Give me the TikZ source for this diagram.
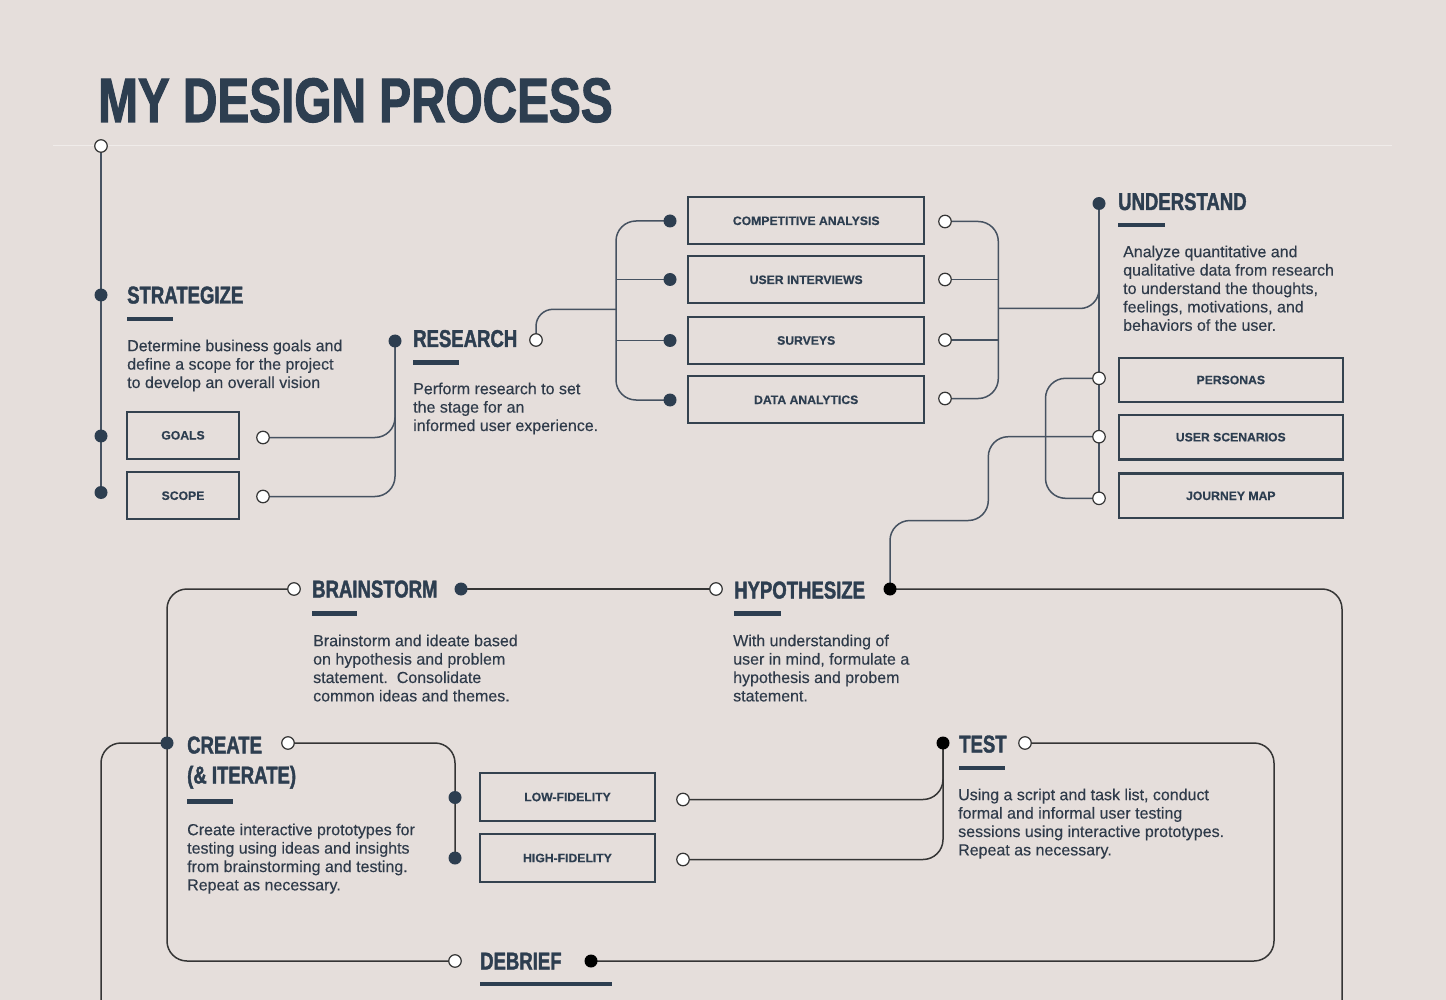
\documentclass[tikz,border=0pt]{standalone}
\usepackage{fontspec}
\setmainfont{Liberation Sans}[FakeBold=0.25]
\newfontfamily\headfont[FakeStretch=0.76, BoldFeatures={FakeBold=1.6}]{Liberation Sans}
\newfontfamily\boxfont[BoldFeatures={FakeBold=0.3}]{Liberation Sans}
\pgfdeclarelayer{back}
\pgfdeclarelayer{wires}
\pgfsetlayers{back,wires,main}
\definecolor{bgc}{HTML}{E5DEDB}
\definecolor{navy}{HTML}{2D3E50}
\definecolor{bodyc}{HTML}{2F3B4A}
\definecolor{boxc}{HTML}{34424F}
\definecolor{lineA}{HTML}{465261}
\definecolor{lineB}{HTML}{353535}
\definecolor{rulec}{HTML}{F0ECEA}
\tikzset{
  hd/.style={anchor=base west, inner sep=0, text=navy, font=\headfont\bfseries\fontsize{24.4}{30}\selectfont},
  body/.style={anchor=north west, inner sep=0, align=left, text=bodyc, font=\fontsize{16}{18.4}\selectfont},
  bar/.style={draw=navy, line width=4.5pt},
  box/.style={draw=boxc, line width=2.2pt, inner sep=0, text=navy, font=\boxfont\bfseries\fontsize{12.2}{14}\selectfont},
  fdot/.style={circle, fill=navy, minimum size=13pt, inner sep=0},
  kdot/.style={circle, fill=black, minimum size=13pt, inner sep=0},
  odot/.style={circle, draw=lineB, fill=white, line width=1.2pt, minimum size=12.5pt, inner sep=0},
  wa/.style={draw=lineA, line width=1.5pt, rounded corners=20pt},
  wb/.style={draw=lineB, line width=1.5pt, rounded corners=20pt},
}
\begin{document}
\begin{tikzpicture}[x=1pt,y=-1pt]
\begin{pgfonlayer}{back}
\fill[bgc] (0,0) rectangle (1446,1000);
\draw[rulec, line width=1pt] (53,146) -- (1392,146);
\end{pgfonlayer}
\useasboundingbox (0,0) rectangle (1446,1000);

% title
\node[anchor=base west, inner sep=0, text=navy, font=\headfont\bfseries\fontsize{62.8}{70}\selectfont] (title) at (98,122) {MY DESIGN PROCESS};

% headings
\node[hd] (hst) at (127,303.5) {STRATEGIZE};
\node[hd] (hrs) at (413,347) {RESEARCH};
\node[hd] (hun) at (1118,210) {UNDERSTAND};
\node[hd] (hbs) at (312,597.5) {BRAINSTORM};
\node[hd] (hhy) at (734,598.5) {HYPOTHESIZE};
\node[hd] (hcr) at (187,753.5) {CREATE};
\node[hd] (hcr2) at (187,783.5) {(\& ITERATE)};
\node[hd] (hts) at (959,752.5) {TEST};
\node[hd] (hdb) at (480,969.5) {DEBRIEF};

% bars
\draw[bar] (127,319) -- (173,319);
\draw[bar] (413,362.5) -- (459,362.5);
\draw[bar] (1118,225) -- (1165,225);
\draw[bar] (312,613.5) -- (357,613.5);
\draw[bar] (734,613.5) -- (781,613.5);
\draw[bar] (187,801.5) -- (233,801.5);
\draw[bar] (959,768) -- (1005,768);
\draw[bar] (480,984) -- (612,984);

% body texts
\node[body] (tst) at (127,339.4) {Determine business goals and\\define a scope for the project\\to develop an overall vision};
\node[body] (trs) at (413,382.4) {Perform research to set\\the stage for an\\informed user experience.};
\node[body] (tun) at (1123,245.4) {Analyze quantitative and\\qualitative data from research\\to understand the thoughts,\\feelings, motivations, and\\behaviors of the user.};
\node[body] (tbs) at (313,634.4) {Brainstorm and ideate based\\on hypothesis and problem\\statement.\ \ Consolidate\\common ideas and themes.};
\node[body] (thy) at (733,634.4) {With understanding of\\user in mind, formulate a\\hypothesis and probem\\statement.};
\node[body] (tcr) at (187,823.4) {Create interactive prototypes for\\testing using ideas and insights\\from brainstorming and testing.\\Repeat as necessary.};
\node[body] (tts) at (958,788.4) {Using a script and task list, conduct\\formal and informal user testing\\sessions using interactive prototypes.\\Repeat as necessary.};

% boxes
\node[box, minimum width=112.6pt, minimum height=47pt] (goals) at (183,435.3) {GOALS};
\node[box, minimum width=112.6pt, minimum height=47pt] (scope) at (183,495.7) {SCOPE};
\node[box, minimum width=235.7pt, minimum height=47pt] (ca) at (806.2,220.8) {COMPETITIVE ANALYSIS};
\node[box, minimum width=235.7pt, minimum height=47pt] (ui) at (806.2,279.8) {USER INTERVIEWS};
\node[box, minimum width=235.7pt, minimum height=47pt] (sv) at (806.2,340.5) {SURVEYS};
\node[box, minimum width=235.7pt, minimum height=47pt] (da) at (806.2,399.8) {DATA ANALYTICS};
\node[box, minimum width=223.7pt, minimum height=44.6pt] (pe) at (1230.8,380) {PERSONAS};
\node[box, minimum width=223.7pt, minimum height=44.6pt] (us) at (1230.8,437.2) {USER SCENARIOS};
\node[box, minimum width=223.7pt, minimum height=44.6pt] (jm) at (1230.8,495.8) {JOURNEY MAP};
\node[box, minimum width=175pt, minimum height=47.4pt] (lf) at (567.5,797) {LOW-FIDELITY};
\node[box, minimum width=175pt, minimum height=47.4pt] (hf) at (567.5,858) {HIGH-FIDELITY};

% dots
\node[odot] (top-o) at (101,146) {};
\node[fdot] (st-d) at (101,295) {};
\node[fdot] (go-d) at (101,436) {};
\node[fdot] (sc-d) at (101,492.5) {};
\node[odot] (go-o) at (263,437.5) {};
\node[odot] (sc-o) at (263,496.5) {};
\node[fdot] (rs-d) at (395,341) {};
\node[odot] (rs-o) at (536,340) {};
\node[fdot] (ca-d) at (670,221) {};
\node[fdot] (ui-d) at (670,279.5) {};
\node[fdot] (sv-d) at (670,340.5) {};
\node[fdot] (da-d) at (670,400) {};
\node[odot] (ca-o) at (945,221.5) {};
\node[odot] (ui-o) at (945,279.5) {};
\node[odot] (sv-o) at (945,340) {};
\node[odot] (da-o) at (945,398.5) {};
\node[fdot] (un-d) at (1099,203.5) {};
\node[odot] (pe-o) at (1099,378.3) {};
\node[odot] (us-o) at (1099,436.7) {};
\node[odot] (jm-o) at (1099,498.3) {};
\node[odot] (hy-o) at (716,589) {};
\node[kdot] (hy-d) at (890,589) {};
\node[odot] (bs-o) at (294,589) {};
\node[fdot] (bs-d) at (461,589) {};
\node[fdot] (cr-d) at (167,743) {};
\node[odot] (cr-o) at (288,743) {};
\node[fdot] (lf-d) at (455,797.5) {};
\node[fdot] (hf-d) at (455,858) {};
\node[odot] (lf-o) at (683,799.5) {};
\node[odot] (hf-o) at (683,859.5) {};
\node[kdot] (ts-d) at (943,743) {};
\node[odot] (ts-o) at (1025,743) {};
\node[odot] (db-o) at (455,961) {};
\node[kdot] (db-d) at (591,961) {};

% helper coordinates
\coordinate (bl) at (616,309.3);
\coordinate (br) at (998.3,308.5);
\coordinate (bk) at (1045.5,438);
\coordinate (c1) at (988.3,520.5);
\coordinate (rb) at (1342,1003);
\coordinate (cl) at (167,800);
\coordinate (lb) at (101,1003);
\coordinate (tr) at (1274,850);

\begin{pgfonlayer}{wires}
\draw[wa] (top-o.center) -- (sc-d.center);
\draw[wa] (go-o.center) -| (rs-d.center);
\draw[wa] (sc-o.center) -| (rs-d.center);
\draw[wa, rounded corners=17pt] (rs-o.center) |- (bl);
\draw[wa] (ca-d.center) -| (bl) |- (da-d.center);
\draw[wa] (ui-d.center) -- (ui-d.center -| bl);
\draw[wa] (sv-d.center) -- (sv-d.center -| bl);
\draw[wa] (ca-o.center) -| (br) |- (da-o.center);
\draw[wa] (ui-o.center) -- (ui-o.center -| br);
\draw[wa] (sv-o.center) -- (sv-o.center -| br);
\draw[wa, rounded corners=19pt] (br) -| (un-d.center);
\draw[wa] (un-d.center) -- (jm-o.center);
\draw[wa] (pe-o.center) -| (bk) |- (jm-o.center);
\draw[wa] (us-o.center) -| (c1) -| (hy-d.center);
\draw[wb] (hy-o.center) -- (bs-d.center);
\draw[wb] (hy-d.center) -| (rb);
\draw[wb] (bs-o.center) -| (cl) |- (db-o.center);
\draw[wb] (cr-d.center) -| (lb);
\draw[wb] (cr-o.center) -| (hf-d.center);
\draw[wb] (lf-o.center) -| (ts-d.center);
\draw[wb] (hf-o.center) -| (ts-d.center);
\draw[wb] (ts-o.center) -| (tr) |- (db-d.center);
\end{pgfonlayer}
\end{tikzpicture}
\end{document}
